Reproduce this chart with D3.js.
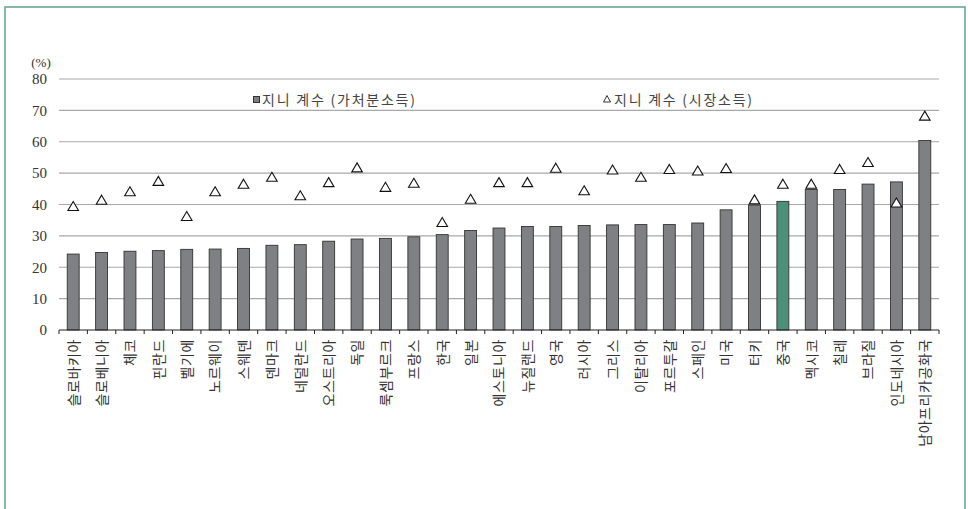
<!DOCTYPE html>
<html><head><meta charset="utf-8">
<script src="https://cdn.jsdelivr.net/npm/d3@7"></script>
<style>html,body{margin:0;padding:0;background:#fff;}svg{display:block;}</style>
</head><body>
<svg id="chart" width="968" height="509"></svg>
<script>
const categories = ["슬로바키아","슬로베니아","체코","핀란드","벨기에","노르웨이","스웨덴","덴마크","네덜란드","오스트리아","독일","룩셈부르크","프랑스","한국","일본","에스토니아","뉴질랜드","영국","러시아","그리스","이탈리아","포르투갈","스페인","미국","터키","중국","멕시코","칠레","브라질","인도네시아","남아프리카공화국"];
const disposable = [24.2,24.7,25.1,25.3,25.7,25.8,26.0,27.0,27.2,28.3,29.0,29.2,29.7,30.4,31.7,32.5,33.0,33.0,33.3,33.5,33.6,33.6,34.1,38.3,39.8,41.0,44.8,44.8,46.5,47.2,60.4];
const market = [39.5,41.5,44.2,47.5,36.3,44.2,46.6,48.8,42.9,47.1,51.8,45.6,46.9,34.4,41.8,47.1,47.1,51.7,44.5,51.1,48.8,51.3,50.8,51.6,41.6,46.6,46.6,51.3,53.5,40.6,68.3];
const yTicks = [0,10,20,30,40,50,60,70,80];
const highlight = "중국";
const legendLabels = ["지니 계수 (가처분소득)","지니 계수 (시장소득)"];

const svg = d3.select("#chart");
svg.append("rect").attr("x",5).attr("y",7).attr("width",960).attr("height",530)
  .attr("fill","none").attr("stroke","#6aa895").attr("stroke-width",1.6);

const x = d3.scaleBand().domain(categories).range([59,939]).paddingInner(0.58).paddingOuter(0.29);
const y = d3.scaleLinear().domain([0,80]).range([330,79]);

svg.append("g").selectAll("line").data(yTicks.filter(t=>t>0)).join("line")
  .attr("x1",59).attr("x2",939).attr("y1",d=>y(d)).attr("y2",d=>y(d))
  .attr("stroke","#a9a9a9").attr("stroke-width",1.2);

svg.append("g").selectAll("text").data(yTicks).join("text")
  .attr("x",47).attr("y",d=>y(d)).attr("dy","0.35em").attr("text-anchor","end")
  .attr("font-family","Liberation Serif, serif").attr("font-size",15).attr("fill","#333")
  .text(d=>d);
svg.append("text").attr("x",41).attr("y",67).attr("text-anchor","middle")
  .attr("font-family","Liberation Serif, serif").attr("font-size",13).attr("fill","#333").text("(%)");

const lg = svg.append("g").attr("font-family","Noto Sans CJK KR, sans-serif").attr("font-size",14).attr("fill","#444");
lg.append("rect").attr("x",253.5).attr("y",96.5).attr("width",6).attr("height",6).attr("fill","#7d7e80").attr("stroke","#333").attr("stroke-width",1);
lg.append("text").attr("x",262).attr("y",104.5).attr("textLength",153).text(legendLabels[0]);
lg.append("path").attr("d","M607,95.5 L610.5,102 L603.5,102 Z").attr("fill","#fff").attr("stroke","#333").attr("stroke-width",1);
lg.append("text").attr("x",614).attr("y",104.5).attr("textLength",138).text(legendLabels[1]);

svg.append("g").selectAll("rect").data(categories).join("rect")
  .attr("x",d=>x(d)).attr("width",x.bandwidth())
  .attr("y",(d,i)=>y(disposable[i])).attr("height",(d,i)=>y(0)-y(disposable[i]))
  .attr("fill",d=>d===highlight?"#4b9179":"#7f8083").attr("stroke","#333").attr("stroke-width",0.9);

const step = x.step();
const offs = (step - x.bandwidth())/2;
svg.append("line").attr("x1",59).attr("x2",939).attr("y1",y(0)).attr("y2",y(0)).attr("stroke","#222").attr("stroke-width",1.2);
const bounds = categories.map(c=>x(c)-offs).concat([x(categories[categories.length-1])+x.bandwidth()+offs]);
svg.append("g").selectAll("line").data(bounds).join("line")
  .attr("x1",d=>d).attr("x2",d=>d).attr("y1",y(0)).attr("y2",y(0)+4).attr("stroke","#222").attr("stroke-width",1);

const tri = "M0,-4.6 L5.3,4.4 L-5.3,4.4 Z";
svg.append("g").selectAll("path").data(categories).join("path")
  .attr("transform",(d,i)=>`translate(${x(d)+x.bandwidth()/2},${y(market[i])})`)
  .attr("d",tri).attr("fill","#fff").attr("stroke","#111").attr("stroke-width",1.1);

svg.append("g").selectAll("text").data(categories).join("text")
  .attr("transform",d=>`translate(${x(d)+x.bandwidth()/2},339) rotate(-90)`)
  .attr("text-anchor","end").attr("dy","0.38em")
  .attr("font-family","Noto Sans CJK KR, sans-serif").attr("font-size",14).attr("letter-spacing",0.6).attr("fill","#333")
  .text(d=>d);
</script>
</body></html>
